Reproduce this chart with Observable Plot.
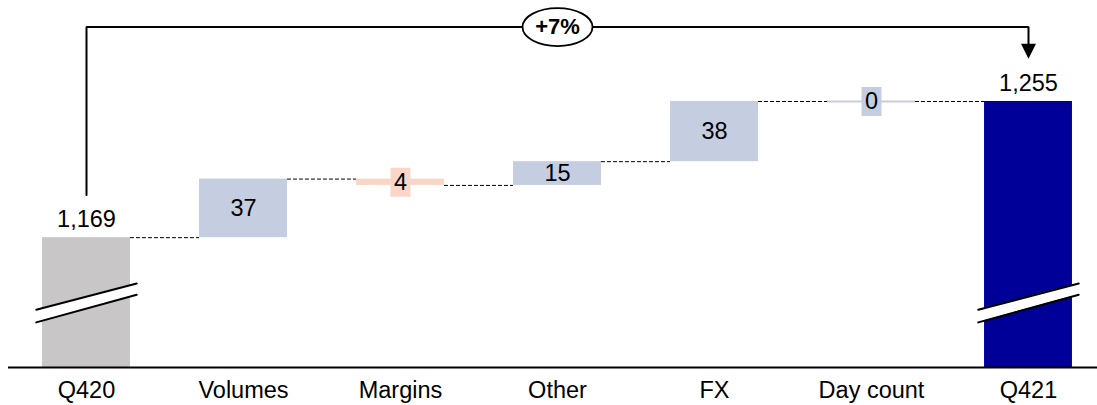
<!DOCTYPE html>
<html>
<head>
<meta charset="utf-8">
<script src="https://cdn.jsdelivr.net/npm/d3@7"></script>
<script src="https://cdn.jsdelivr.net/npm/@observablehq/plot@0.6"></script>
<style>
  html, body { margin: 0; padding: 0; background: #ffffff; }
  #chart svg { display: block; }
</style>
</head>
<body>
<div id="chart"></div>
<script>
// ---- data ----
const categories = ["Q420", "Volumes", "Margins", "Other", "FX", "Day count", "Q421"];
const values     = [1169, 37, -4, 15, 38, 0, 1255];
const kinds      = ["total", "delta", "delta", "delta", "delta", "delta", "total"];
const valueLabels = ["1,169", "37", "4", "15", "38", "0", "1,255"];
const axisBase = 1087;               // value at the (broken) baseline
const breakLower = [1115.5, 1133];   // break band, lower edge (left, right)
const breakUpper = [1123.5, 1140];   // break band, upper edge (left, right)
const growthLabel = "+7%";

// ---- colours ----
const cStart = "#c8c6c6", cEnd = "#000099", cUp = "#c4cee0", cDown = "#f9d6c8";

// ---- waterfall table ----
let running = 0;
const rows = categories.map((cat, i) => {
  let start, end;
  if (kinds[i] === "total") { start = axisBase; end = values[i]; running = values[i]; }
  else { start = running; end = running + values[i]; running = end; }
  const fill = kinds[i] === "total" ? (i === 0 ? cStart : cEnd) : (values[i] < 0 ? cDown : cUp);
  return {i, cat, kind: kinds[i], value: values[i], label: valueLabels[i], start, end, mid: (start + end) / 2, fill};
});
const half = 0.28;
const connectors = rows.slice(0, -1).map(r => ({i: r.i, y: r.end}));
const totals = rows.filter(r => r.kind === "total");
const breakRows = totals.flatMap(r => [
  {cat: r.cat, x: r.i - 0.32, lo: breakLower[0], hi: breakUpper[0]},
  {cat: r.cat, x: r.i + 0.32, lo: breakLower[1], hi: breakUpper[1]}
]);
const smallDeltas = rows.filter(r => r.kind === "delta" && Math.abs(r.value) < 8);
const bigDeltas = rows.filter(r => r.kind === "delta" && Math.abs(r.value) >= 8);

const first = rows[0], last = rows[rows.length - 1];
const bracketTop = last.end + 47;
const bracket = [
  {x: first.i, y: first.end + 27},
  {x: first.i, y: bracketTop},
  {x: last.i, y: bracketTop},
  {x: last.i, y: last.end + 30}
];

const ellipseSymbol = {draw(ctx) {
  const rx = 35, ry = 19, k = 0.5523;
  ctx.moveTo(-rx, 0);
  ctx.bezierCurveTo(-rx, -ry * k, -rx * k, -ry, 0, -ry);
  ctx.bezierCurveTo(rx * k, -ry, rx, -ry * k, rx, 0);
  ctx.bezierCurveTo(rx, ry * k, rx * k, ry, 0, ry);
  ctx.bezierCurveTo(-rx * k, ry, -rx, ry * k, -rx, 0);
  ctx.closePath();
}};
const arrowSymbol = {draw(ctx) {
  ctx.moveTo(-7.5, -15); ctx.lineTo(7.5, -15); ctx.lineTo(0, 0); ctx.closePath();
}};
const boxSymbol = {draw(ctx) { ctx.rect(-10, -14.5, 20, 29); }};

const font = "'Liberation Sans', Arial, Helvetica, sans-serif";
const fs = 23.5;

const chart = Plot.plot({
  width: 1097,
  height: 405,
  marginLeft: 8, marginRight: 0, marginTop: 0, marginBottom: 38,
  x: {type: "linear", domain: [0, 6], range: [86, 1028], axis: null},
  y: {type: "linear", domain: [axisBase, 1255], range: [367, 101], axis: null},
  style: {fontFamily: font, fontSize: fs + "px", background: "#ffffff", color: "#000"},
  marks: [
    // bars
    Plot.rect(rows.filter(r => r.start !== r.end), {
      x1: d => d.i - half, x2: d => d.i + half, y1: "start", y2: "end", fill: "fill"
    }),
    // zero-size delta drawn as a thin line
    Plot.ruleY(rows.filter(r => r.kind === "delta" && r.value === 0), {
      y: "end", x1: d => d.i - half, x2: d => d.i + half, stroke: cUp, strokeWidth: 2
    }),
    // dashed connectors
    Plot.ruleY(connectors, {
      y: "y", x1: d => d.i + half, x2: d => d.i + 1 - half,
      stroke: "#000", strokeWidth: 1, strokeDasharray: "4,2"
    }),
    // axis breaks
    Plot.areaY(breakRows, {x: "x", y1: "lo", y2: "hi", z: "cat", fill: "#ffffff"}),
    Plot.line(breakRows, {x: "x", y: "lo", z: "cat", stroke: "#000", strokeWidth: 2}),
    Plot.line(breakRows, {x: "x", y: "hi", z: "cat", stroke: "#000", strokeWidth: 2}),
    // baseline
    Plot.ruleY([axisBase], {stroke: "#000", strokeWidth: 2}),
    // label boxes for tiny deltas
    Plot.dot(smallDeltas, {x: "i", y: "mid", symbol: boxSymbol, fill: "fill", stroke: null, r: 5}),
    // value labels
    Plot.text(bigDeltas.concat(smallDeltas), {x: "i", y: "mid", text: "label", fontSize: fs, fill: "#000"}),
    Plot.text(totals, {x: "i", y: "end", text: "label", dy: -18, fontSize: fs, fill: "#000"}),
    // category labels
    Plot.text(rows, {x: "i", y: () => axisBase, text: "cat", dy: 23, fontSize: fs, fill: "#000"}),
    // growth bracket
    Plot.line(bracket, {x: "x", y: "y", stroke: "#000", strokeWidth: 2, strokeLinejoin: "miter", curve: "linear"}),
    Plot.dot([{x: last.i, y: last.end + 27}], {x: "x", y: "y", symbol: arrowSymbol, fill: "#000", stroke: null, r: 5}),
    Plot.dot([{x: 3, y: bracketTop}], {x: "x", y: "y", symbol: ellipseSymbol, fill: "#fff", stroke: "#000", strokeWidth: 1.8, r: 5}),
    Plot.text([{x: 3, y: bracketTop, t: growthLabel}], {x: "x", y: "y", text: "t", fontSize: 22, fontWeight: "bold", fill: "#000"})
  ]
});
document.getElementById("chart").appendChild(chart);
</script>
</body>
</html>
